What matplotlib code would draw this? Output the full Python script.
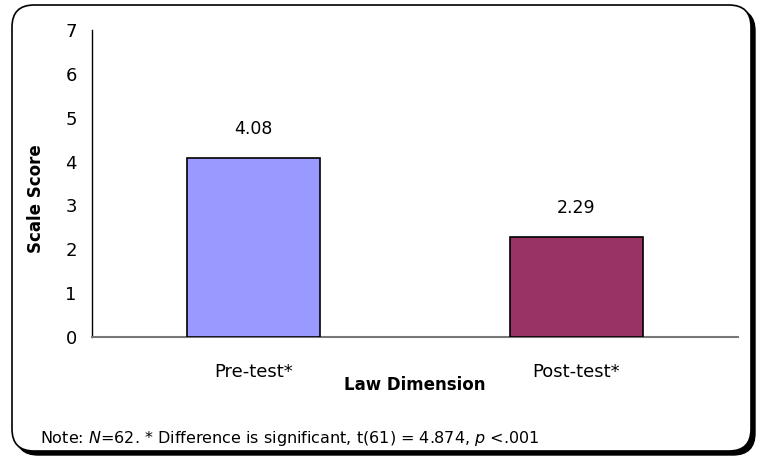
import matplotlib
matplotlib.use("Agg")
import matplotlib.pyplot as plt
from matplotlib.patches import FancyBboxPatch

# Scale scores for the law dimension
categories = ["Pre-test*", "Post-test*"]
scores = [4.08, 2.29]
bar_colors = ["#9999FF", "#993366"]
y_ticks = [0, 1, 2, 3, 4, 5, 6, 7]

plt.rcParams["font.family"] = ["DejaVu Sans"]

W, H = 760, 458
fig = plt.figure(figsize=(W / 100, H / 100), dpi=100)

# Background layer in pixel units for the rounded frame and its shadow
bg = fig.add_axes([0, 0, 1, 1])
bg.set_xlim(0, W)
bg.set_ylim(H, 0)
bg.axis("off")
bg.set_zorder(0)

x0, y0, x1, y1 = 12, 5, 751, 451
shadow = FancyBboxPatch((x0 + 4, y0 + 4), x1 - x0, y1 - y0,
                        boxstyle="round,pad=0,rounding_size=22",
                        facecolor="black", edgecolor="black", linewidth=1)
frame = FancyBboxPatch((x0, y0), x1 - x0, y1 - y0,
                       boxstyle="round,pad=0,rounding_size=22",
                       facecolor="white", edgecolor="black", linewidth=1.2)
bg.add_patch(shadow)
bg.add_patch(frame)

ax = fig.add_axes([92 / W, 1 - 337 / H, (738 - 92) / W, (337 - 30) / H])
ax.set_facecolor("none")
ax.set_zorder(2)

x = list(range(len(categories)))
ax.bar(x, scores, width=0.41, color=bar_colors,
       edgecolor="black", linewidth=1.2, zorder=3)
for xi, v in zip(x, scores):
    ax.text(xi, v + 0.45, f"{v:.2f}", ha="center", va="bottom", fontsize=12.5)

ax.set_xlim(-0.5, 1.5)
ax.set_ylim(0, 7)
ax.set_yticks(y_ticks)
ax.set_xticks(x)
ax.set_xticklabels(categories)
ax.tick_params(axis="y", length=0, pad=11, labelsize=13)
ax.tick_params(axis="x", length=0, pad=19, labelsize=13)

for s in ["top", "right"]:
    ax.spines[s].set_visible(False)
ax.spines["left"].set_color("black")
ax.spines["left"].set_linewidth(1.0)
ax.spines["bottom"].set_color("#777777")
ax.spines["bottom"].set_linewidth(1.5)

ax.set_xlabel("Law Dimension", fontsize=12, fontweight="bold")
ax.xaxis.set_label_coords(0.5, -0.128)
ax.set_ylabel("Scale Score", fontsize=12, fontweight="bold")
ax.yaxis.set_label_coords(-0.073, 0.45)

fig.text(40 / W, 1 - 438 / H,
         r"Note: $\it{N}$=62. * Difference is significant, t(61) = 4.874, $\it{p}$ <.001",
         fontsize=11.5, ha="left", va="center", zorder=3)

fig.savefig("out.png", dpi=100)
